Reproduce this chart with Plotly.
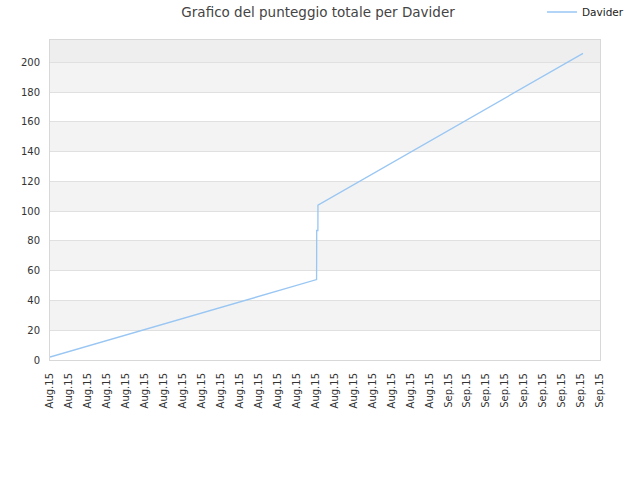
import plotly.graph_objects as go

# vertices of the score line
dates = ["2015-08-11 00:00", "2015-08-25 01:20", "2015-08-25 01:25",
         "2015-08-25 01:30", "2015-08-25 03:00", "2015-08-25 03:05",
         "2015-09-08 02:30"]
score = [2, 54, 69, 87, 87, 104, 206]

tick_days = ["2015-08-%02d" % d for d in range(11, 32)] + ["2015-09-%02d" % d for d in range(1, 10)]
tick_labels = ["Aug.15"] * 21 + ["Sep.15"] * 9

band_lows = [20, 60, 100, 140, 180]
band_size = 20
y_max = 215

fig = go.Figure()
fig.add_trace(go.Scatter(x=dates, y=score, mode="lines", name="Davider",
                         line=dict(color="#99c6f3", width=1.3), showlegend=True))

for lo in band_lows:
    fig.add_shape(type="rect", xref="paper", yref="y", x0=0, x1=1, y0=lo, y1=lo + band_size,
                  fillcolor="#f3f3f3", line_width=0, layer="below")
fig.add_shape(type="rect", xref="paper", yref="y", x0=0, x1=1, y0=200, y1=y_max,
              fillcolor="#eeeeee", line_width=0, layer="below")

fig.update_layout(
    width=640, height=480,
    margin=dict(l=50, r=40, t=40, b=120, autoexpand=False),
    paper_bgcolor="white", plot_bgcolor="white",
    font=dict(family="DejaVu Sans", size=10, color="#333333"),
    title=dict(text="Grafico del punteggio totale per Davider", x=0.497, xanchor="center",
               y=0.975, yanchor="middle", font=dict(size=13.5, color="#444444")),
    legend=dict(x=0.8945, y=1.0875, xanchor="left", yanchor="middle",
                bgcolor="rgba(0,0,0,0)", font=dict(size=10.5, color="#222222")),
    showlegend=True,
)

fig.update_xaxes(range=["2015-08-11", "2015-09-09"], tickvals=tick_days, ticktext=tick_labels,
                 tickangle=-90, showgrid=False, showline=True, linecolor="#d8d8d8", mirror=True,
                 zeroline=False, ticks="", automargin=False, ticklabelstandoff=8,
                 tickfont=dict(size=10, color="#333333"))
fig.update_yaxes(range=[0, y_max], dtick=20, showgrid=True, gridcolor="#e0e0e0", showline=True,
                 linecolor="#d8d8d8", mirror=True, zeroline=False, ticks="", automargin=False,
                 ticklabelstandoff=7, tickfont=dict(size=10, color="#333333"))

# drop the default 8px body margin so the figure sits at the window's corner
fig.write_html("out.html", config={"displayModeBar": False},
               post_script="document.body.style.margin='0px';")
